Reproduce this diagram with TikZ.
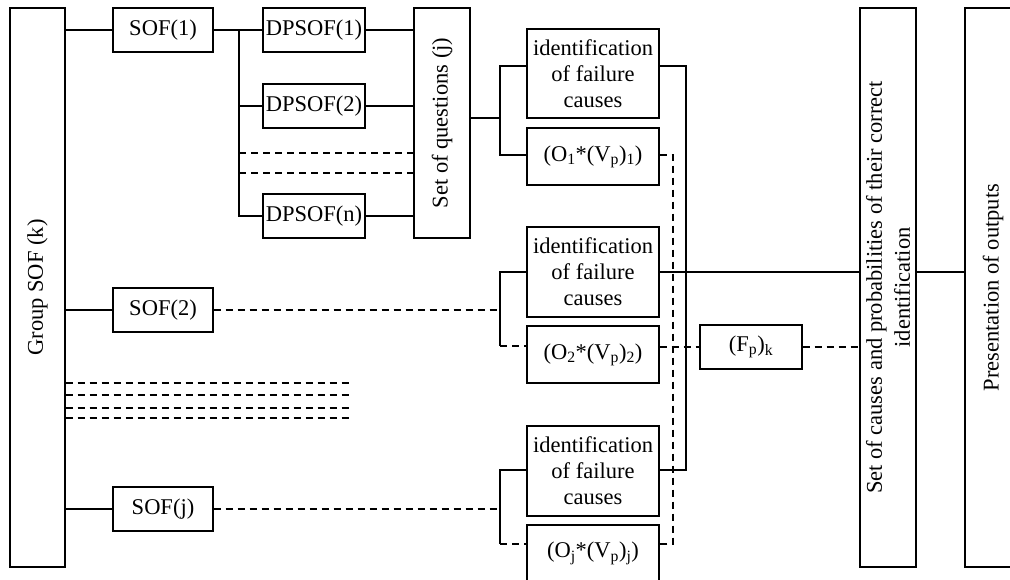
\documentclass[tikz,border=0pt]{standalone}
\usepackage{fontspec}
\setmainfont{Liberation Serif}
\begin{document}
\begin{tikzpicture}[x=1pt,y=-1pt,
  box/.style={draw, line width=1.3pt, inner sep=0pt, align=center, font=\fontsize{22.5}{26}\selectfont},
  txt/.style={inner sep=0pt, align=center, font=\fontsize{22.5}{28}\selectfont},
  ln/.style={line width=1.3pt},
  dl/.style={line width=1.3pt, dash pattern=on 7pt off 5pt}]
\useasboundingbox (0,0) rectangle (1010,579);
\clip (0,0) rectangle (1010,579);
\fill[white] (0,0) rectangle (1010,579);

% left column
\node[box, minimum width=55, minimum height=559] (grp) at (37.5,287.5) {};
\node[txt, rotate=90] (grpt) at (grp.center) {Group SOF (k)};
\node[box, minimum width=100, minimum height=44] (sof1) at (163,30) {SOF(1)};
\node[box, minimum width=100, minimum height=44] (sof2) at (163,310) {SOF(2)};
\node[box, minimum width=100, minimum height=44] (sofj) at (163,509) {SOF(j)};

% DPSOF column
\node[box, minimum width=102, minimum height=44] (dp1) at (314,30) {DPSOF(1)};
\node[box, minimum width=102, minimum height=44] (dp2) at (314,106) {DPSOF(2)};
\node[box, minimum width=102, minimum height=44] (dpn) at (314,216) {DPSOF(n)};
\node[box, minimum width=56, minimum height=230] (soq) at (442,123) {};
\node[txt, rotate=90] (soqt) at (soq.center) {Set of questions (j)};

% identification / O boxes
\node[box, minimum width=132, minimum height=89] (id1) at (593,73.5) {identification\\of failure\\causes};
\node[box, minimum width=132, minimum height=57] (o1) at (593,156.5) {(O\textsubscript{1}*(V\textsubscript{p})\textsubscript{1})};
\node[box, minimum width=132, minimum height=90] (id2) at (593,272) {identification\\of failure\\causes};
\node[box, minimum width=132, minimum height=57] (o2) at (593,354.5) {(O\textsubscript{2}*(V\textsubscript{p})\textsubscript{2})};
\node[box, minimum width=132, minimum height=90] (idj) at (593,471) {identification\\of failure\\causes};
\node[box, minimum width=132, minimum height=57] (oj) at (593,553.5) {(O\textsubscript{j}*(V\textsubscript{p})\textsubscript{j})};
\node[box, minimum width=102, minimum height=44] (fp) at (751,347) {(F\textsubscript{p})\textsubscript{k}};

% right columns
\node[box, minimum width=56, minimum height=559] (soc) at (888,287.5) {};
\node[txt, rotate=90] (soct) at (soc.center) {Set of causes and probabilities of their correct\\identification};
\node[box, minimum width=56, minimum height=559] (pres) at (993,287.5) {};
\node[txt, rotate=90] (prest) at (pres.center) {Presentation of outputs};

% coordinates
\coordinate (j1) at (239,30);
\coordinate (j1b) at (239,216);
\coordinate (d1) at (239,153);
\coordinate (d2) at (239,173);
\coordinate (b1t) at (500,66);
\coordinate (b1m) at (500,118);
\coordinate (b1b) at (500,155);
\coordinate (r1) at (686,66);
\coordinate (r2) at (686,470);
\coordinate (q1) at (673,155);
\coordinate (q2) at (673,544);
\coordinate (b2t) at (500,272);
\coordinate (b2b) at (500,346);
\coordinate (bjt) at (500,470);
\coordinate (bjb) at (500,544);
\coordinate (e1) at (353,383);
\coordinate (e2) at (353,395);
\coordinate (e3) at (353,408);
\coordinate (e4) at (353,418);

% left connectors
\draw[ln] (grp.east |- sof1.west) -- (sof1.west);
\draw[ln] (grp.east |- sof2.west) -- (sof2.west);
\draw[ln] (grp.east |- sofj.west) -- (sofj.west);
\foreach \e in {e1,e2,e3,e4} \draw[dl] (grp.east |- \e) -- (\e);

% SOF(1) branch
\draw[ln] (sof1.east) -- (dp1.west);
\draw[ln] (j1) -- (j1b) -- (dpn.west);
\draw[ln] (j1 |- dp2.west) -- (dp2.west);
\draw[dl] (d1) -- (d1 -| soq.west);
\draw[dl] (d2) -- (d2 -| soq.west);
\draw[ln] (dp1.east) -- (dp1.east -| soq.west);
\draw[ln] (dp2.east) -- (dp2.east -| soq.west);
\draw[ln] (dpn.east) -- (dpn.east -| soq.west);
\draw[ln] (soq.east |- b1m) -- (b1m);
\draw[ln] (id1.west |- b1t) -- (b1t) -- (b1b) -- (o1.west |- b1b);

% right side links
\draw[ln] (id1.east |- r1) -- (r1) -- (r2) -- (idj.east |- r2);
\draw[dl] (o1.east |- q1) -- (q1) -- (q2) -- (oj.east |- q2);
\draw[ln] (id2.east) -- (id2.east -| soc.west);
\draw[ln] (soc.east |- id2.east) -- (pres.west |- id2.east);
\draw[dl] (o2.east |- fp.west) -- (fp.west);
\draw[dl] (fp.east) -- (fp.east -| soc.west);

% SOF(2) branch
\draw[ln] (id2.west) -- (b2t) -- (b2b);
\draw[dl] (b2b) -- (o2.west |- b2b);
\draw[dl] (sof2.east) -- (sof2.east -| b2t);

% SOF(j) branch
\draw[ln] (idj.west |- bjt) -- (bjt) -- (bjb);
\draw[dl] (bjb) -- (oj.west |- bjb);
\draw[dl] (sofj.east) -- (sofj.east -| bjt);
\end{tikzpicture}
\end{document}
